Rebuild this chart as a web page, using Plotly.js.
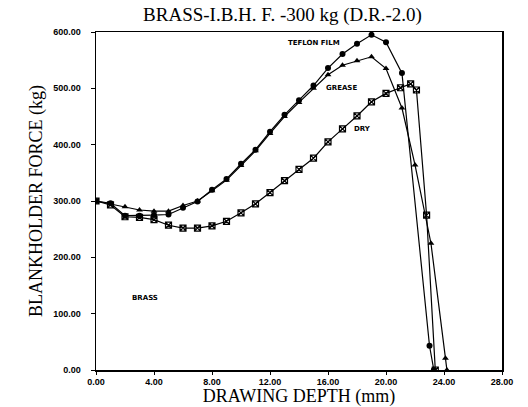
<!DOCTYPE html>
<html>
<head>
<meta charset="utf-8">
<script src="https://cdn.plot.ly/plotly-3.0.1.min.js"></script>
<style>html,body{margin:0;padding:0;background:#fff;}#chart{width:528px;height:407px;}</style>
</head>
<body>
<div id="chart"></div>
<script>
// Drawing depth (mm) and blankholder force (kg)
var teflonDepth = [0, 1, 2, 3, 4, 5, 6, 7, 8, 9, 10, 11, 12, 13, 14, 15, 16, 17, 18, 19, 20, 21.1, 23.0, 23.3];
var teflonForce = [300, 296, 274, 274, 275, 276, 288, 299, 320, 339, 366, 391, 423, 453, 479, 505, 536, 561, 579, 595, 582, 527, 43, 0];

var greaseDepth = [0, 1, 2, 3, 4, 5, 6, 7, 8, 9, 10, 11, 12, 13, 14, 15, 16, 17, 18, 19, 20, 21.1, 22.0, 23.1, 24.1, 24.2];
var greaseForce = [300, 295, 290, 284, 282, 282, 292, 300, 318, 337, 363, 389, 420, 450, 475, 500, 524, 541, 549, 556, 535, 465, 364, 225, 21, 0];

var dryDepth = [0, 1, 2, 3, 4, 5, 6, 7, 8, 9, 10, 11, 12, 13, 14, 15, 16, 17, 18, 19, 20, 21, 21.7, 22.1, 22.8, 23.4];
var dryForce = [300, 293, 272, 271, 267, 257, 252, 252, 256, 264, 279, 295, 315, 336, 356, 376, 405, 428, 451, 476, 491, 501, 508, 497, 275, 0];

var labelText = ["TEFLON FILM", "GREASE", "DRY", "BRASS"];
var labelX = [15.0, 16.9, 18.4, 3.4];
var labelY = [581, 501, 428, 128];

var xTicks = [0, 4, 8, 12, 16, 20, 24, 28];
var yTicks = [0, 100, 200, 300, 400, 500, 600];

var lineStyle = {color: '#000', width: 1.2};
var traces = [
  {x: teflonDepth, y: teflonForce, mode: 'lines+markers', name: 'TEFLON FILM',
   line: lineStyle, marker: {symbol: 'circle', size: 6, color: '#000'}},
  {x: greaseDepth, y: greaseForce, mode: 'lines+markers', name: 'GREASE',
   line: lineStyle, marker: {symbol: 'triangle-up', size: 6, color: '#000'}},
  {x: dryDepth, y: dryForce, mode: 'lines+markers', name: 'DRY',
   line: lineStyle, marker: {symbol: 'square-x-open', size: 6, color: '#000', line: {width: 1.2}}}
];

var annotations = labelText.map(function (t, i) {
  return {x: labelX[i], y: labelY[i], xref: 'x', yref: 'y', text: t, showarrow: false,
          font: {family: 'DejaVu Sans', size: 7, color: '#000', weight: 'bold'}};
});

var serif = 'Liberation Serif, DejaVu Serif, serif';
var tickFont = {family: 'Liberation Sans, DejaVu Sans', size: 9, color: '#000', weight: 'bold'};

var layout = {
  width: 528, height: 407,
  margin: {l: 96, r: 26, t: 32, b: 37},
  paper_bgcolor: '#fff', plot_bgcolor: '#fff',
  showlegend: false,
  title: {text: 'BRASS-I.B.H. F. -300 kg (D.R.-2.0)', font: {family: serif, size: 19, color: '#000'},
          x: 0.535, xanchor: 'center', y: 0.965, yanchor: 'middle'},
  xaxis: {range: [0, 28], tickvals: xTicks, ticktext: xTicks.map(function (v) { return v.toFixed(2); }),
          showgrid: false, zeroline: false, showline: true, mirror: true, linecolor: '#000', linewidth: 1.5,
          ticks: 'outside', ticklen: 3, tickcolor: '#000', tickfont: tickFont,
          title: {text: 'DRAWING DEPTH (mm)', font: {family: serif, size: 18, color: '#000'}, standoff: 2}},
  yaxis: {range: [0, 600], tickvals: yTicks, ticktext: yTicks.map(function (v) { return v.toFixed(2); }),
          showgrid: false, zeroline: false, showline: true, mirror: true, linecolor: '#000', linewidth: 1.5,
          ticks: 'outside', ticklen: 4, tickcolor: '#000', tickfont: tickFont, ticklabelstandoff: 8,
          title: {text: 'BLANKHOLDER FORCE (kg)', font: {family: serif, size: 18, color: '#000'}, standoff: 6}},
  annotations: annotations
};

Plotly.newPlot('chart', traces, layout, {displayModeBar: false, staticPlot: true});
</script>
</body>
</html>
